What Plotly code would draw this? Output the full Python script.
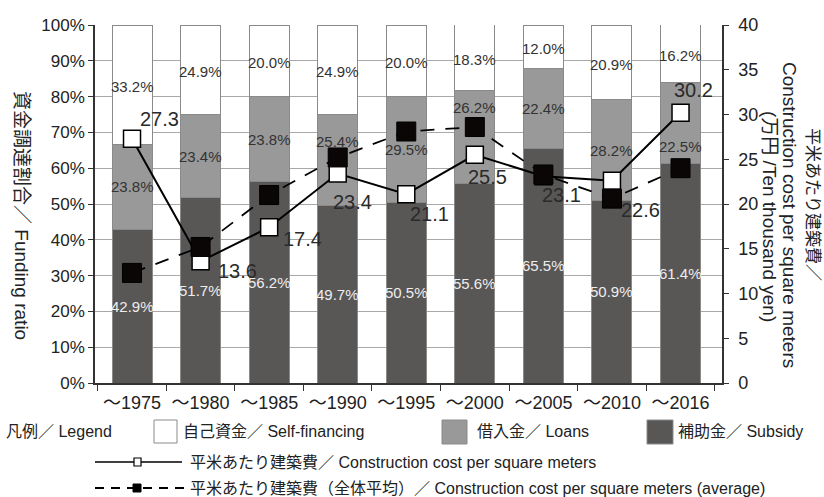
import plotly.graph_objects as go

# Periods and funding composition (%)
periods = ["～1975", "～1980", "～1985", "～1990", "～1995", "～2000", "～2005", "～2010", "～2016"]
subsidy = [42.9, 51.7, 56.2, 49.7, 50.5, 55.6, 65.5, 50.9, 61.4]
loans = [23.8, 23.4, 23.8, 25.4, 29.5, 26.2, 22.4, 28.2, 22.5]
self_financing = [33.2, 24.9, 20.0, 24.9, 20.0, 18.3, 12.0, 20.9, 16.2]

# Construction cost per square meter (10,000 yen)
cost = [27.3, 13.6, 17.4, 23.4, 21.1, 25.5, 23.1, 22.6, 30.2]
cost_average = [12.3, 15.2, 21.0, 25.2, 28.1, 28.6, 23.3, 20.6, 24.0]

left_ticks = [0, 10, 20, 30, 40, 50, 60, 70, 80, 90, 100]
left_labels = [f"{v}%" for v in left_ticks]
right_ticks = [0, 5, 10, 15, 20, 25, 30, 35, 40]

# styling
C_SELF = "#ffffff"
C_LOAN = "#999999"
C_SUB = "#595656"
EDGE = "#8a8a8a"
INK = "#222222"
LAT = "Liberation Sans"
CJK = "Liberation Sans, Noto Sans CJK JP"

W, H = 824, 497
ML, MR, MT, MB = 95, 102, 25, 114
PW, PH = W - ML - MR, H - MT - MB


def px(x):
    return (x - ML) / PW


def py(y):
    return (H - MB - y) / PH


fig = go.Figure()
bar_line = dict(color=EDGE, width=1)
fig.add_bar(x=periods, y=subsidy, name="補助金／ Subsidy",
            marker=dict(color=C_SUB, line=bar_line))
fig.add_bar(x=periods, y=loans, name="借入金／ Loans",
            marker=dict(color=C_LOAN, line=bar_line))
fig.add_bar(x=periods, y=self_financing, name="自己資金／ Self-financing",
            marker=dict(color=C_SELF, line=bar_line))

fig.add_scatter(x=periods, y=cost, yaxis="y2", mode="lines+markers",
                line=dict(color="#000000", width=2),
                marker=dict(symbol="square", size=17, color="#ffffff",
                            line=dict(color="#000000", width=1.5)),
                name="平米あたり建築費")
fig.add_scatter(x=periods, y=cost_average, yaxis="y2", mode="lines+markers",
                line=dict(color="#000000", width=1.8, dash="14px,11px"),
                marker=dict(symbol="square", size=19, color="#0a0606",
                            line=dict(color="#000000", width=1)),
                name="平米あたり建築費（全体平均）")

ann = []
# segment labels
seg_font = 15
loan_shift = {3: 18, 5: 30, 8: -24}
for i, p in enumerate(periods):
    s, l, f = subsidy[i], loans[i], self_financing[i]
    ann.append(dict(x=p, y=s / 2, xref="x", yref="y", text=f"{s:.1f}%",
                    showarrow=False, font=dict(family=LAT, size=seg_font, color="#eeeeee")))
    ann.append(dict(x=p, y=s + l / 2, xref="x", yref="y", text=f"{l:.1f}%",
                    yshift=loan_shift.get(i, 0), showarrow=False,
                    font=dict(family=LAT, size=seg_font, color="#333333")))
    ann.append(dict(x=p, y=s + l + f / 2, xref="x", yref="y", text=f"{f:.1f}%",
                    yshift=-2, showarrow=False,
                    font=dict(family=LAT, size=seg_font, color="#333333")))

# cost value labels
cost_shift = [(27, 20), (37, -10), (33, -12), (15, -28), (23, -20),
              (13, -22), (18, -19), (29, -29), (13, 23)]
for i, p in enumerate(periods):
    dx, dy = cost_shift[i]
    ann.append(dict(x=p, y=cost[i], xref="x", yref="y2", text=f"{cost[i]:.1f}",
                    xshift=dx, yshift=dy, showarrow=False,
                    font=dict(family=LAT, size=20, color="#2a2a2a")))


def vtitle(x, y, t, size):
    ann.append(dict(x=px(x), y=py(y), xref="paper", yref="paper", textangle=90,
                    xanchor="center", yanchor="middle", text=t, showarrow=False,
                    font=dict(family=CJK, size=size, color=INK)))


# axis titles
vtitle(22, 215, "資金調達割合／ Funding ratio", 19)
vtitle(813, 205, "平米あたり建築費／", 17)
vtitle(790, 215, "Construction cost per square meters", 19)
vtitle(770, 216, "(万円 /Ten thousand yen)", 19)

# legend block


def leg_text(x, y, t):
    ann.append(dict(x=px(x), y=py(y), xref="paper", yref="paper", text=t,
                    xanchor="left", yanchor="middle", showarrow=False,
                    font=dict(family=CJK, size=16, color=INK)))


leg_text(4, 432, "凡例／ Legend")
leg_text(181, 432, "自己資金／ Self-financing")
leg_text(475, 432, "借入金／ Loans")
leg_text(676, 432, "補助金／ Subsidy")
leg_text(188, 462, "平米あたり建築費／ Construction cost per square meters")
leg_text(188, 488, "平米あたり建築費（全体平均）／ Construction cost per square meters (average)")

shapes = []


def box(x0, y0, x1, y1, fill, edge=EDGE, w=1):
    shapes.append(dict(type="rect", xref="paper", yref="paper",
                       x0=px(x0), x1=px(x1), y0=py(y1), y1=py(y0),
                       fillcolor=fill, line=dict(color=edge, width=w)))


box(154, 420, 177, 443, C_SELF)
box(442, 420, 467, 444, C_LOAN)
box(647, 420, 673, 444, C_SUB)
shapes.append(dict(type="line", xref="paper", yref="paper", x0=px(95), x1=px(182),
                   y0=py(462), y1=py(462), line=dict(color="#000", width=1.5)))
box(134, 458, 141, 466, "#ffffff", "#000000", 1.2)
shapes.append(dict(type="line", xref="paper", yref="paper", x0=px(95), x1=px(186),
                   y0=py(488), y1=py(488), line=dict(color="#000", width=1.8, dash="9px,7px")))
box(133, 484, 141, 492, "#000000", "#000000", 1)

axis_font = dict(family=LAT, size=17, color=INK)
fig.update_layout(
    width=W, height=H, barmode="stack", bargap=0.417, showlegend=False,
    font=dict(family=LAT),
    margin=dict(l=ML, r=MR, t=MT, b=MB), plot_bgcolor="#ffffff", paper_bgcolor="#ffffff",
    xaxis=dict(type="category", range=[-0.54, 8.605], tickson="boundaries",
               ticks="outside", ticklen=6, tickcolor="#333", showline=True, tickangle=0,
               linecolor="#333", linewidth=1.5, tickfont=dict(family=CJK, size=18, color=INK),
               showgrid=False, ticklabelstandoff=3),
    yaxis=dict(range=[0, 100], tickvals=left_ticks, ticktext=left_labels, ticks="outside",
               ticklen=5, tickcolor="#333", showline=True, linecolor="#333", linewidth=1.5,
               showgrid=True, gridcolor="#a8a8a8", gridwidth=1, tickfont=axis_font,
               zeroline=False),
    yaxis2=dict(range=[0, 40], tickvals=right_ticks, overlaying="y", side="right",
                ticks="outside", ticklen=5, tickcolor="#333", showline=True,
                linecolor="#333", linewidth=1.5, showgrid=False, zeroline=False,
                tickfont=dict(family=LAT, size=18, color=INK), ticklabelstandoff=6),
    annotations=ann, shapes=shapes,
)

fig.write_html("out.html")
